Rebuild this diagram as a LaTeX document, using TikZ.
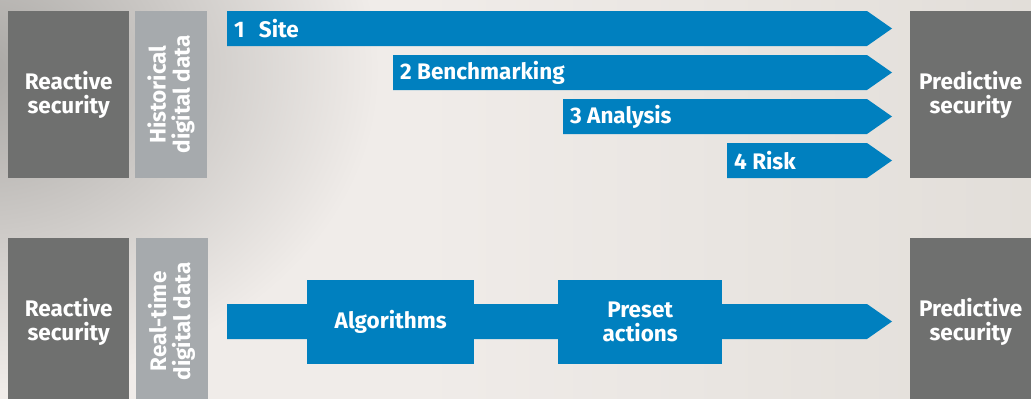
\documentclass[tikz,border=0pt]{standalone}
\usepackage{fontspec}
\setmainfont{Fira Sans}
\definecolor{colorBlock}{HTML}{6F706F}
\definecolor{colorData}{HTML}{A6AAAD}
\definecolor{colorStep}{HTML}{0080BF}
\definecolor{colorBack}{HTML}{F0ECE9}
\definecolor{colorBackII}{HTML}{E2DED9}
\definecolor{colorShadow}{HTML}{A9A7A4}
\newcommand\stepHeight{35}
\newcommand\stepTip{25}
\newcommand\stepEnd{867}
\newcommand\drawStep[4]{
	\fill[colorStep] (#2,#3) to (\stepEnd,#3) to ++(\stepTip,\stepHeight/2)
		to (\stepEnd,#3+\stepHeight) to (#2,#3+\stepHeight) to cycle;
	\node[steplabel] (#1) at (#2,#3+\stepHeight/2) {#4};
}

\begin{document}
\begin{tikzpicture}[x=1pt, y=-1pt,
		block/.style={fill=colorBlock, text=white, font=\labelfont, align=center,
			inner sep=0, minimum width=121, minimum height=167, anchor=north west},
		datablock/.style={fill=colorData, text=white, font=\labelfont, align=center,
			inner sep=0, rotate=90, minimum width=167, minimum height=72},
		steplabel/.style={anchor=west, text=white, font=\labelfont, inner sep=0, xshift=7},
		stepbox/.style={fill=colorStep, text=white, font=\labelfont, align=center,
			inner sep=0, minimum height=84, anchor=north west}]
		\newcommand\labelfont{\fontsize{22.5}{24}\selectfont\bfseries}
		\clip (0,0) rectangle (1031,399);
		\fill[colorBack] (0,0) rectangle (1031,399);
		\shade[left color=colorBack, right color=colorBackII] (420,0) rectangle (1031,399);
		\shade[inner color=colorShadow, outer color=colorBack] (-20,70) ellipse [x radius=400, y radius=320];

		\node[block] (reactTop) at (8,11) {Reactive\\security};
		\node[datablock] (histData) at (171,94.5) {Historical\\digital data};
		\node[block] (predTop) at (910,11) {Predictive\\security};

		\drawStep{site}{227}{11}{1\hspace{9pt} Site}
		\drawStep{bench}{393}{55}{2 Benchmarking}
		\drawStep{analysis}{563}{99}{3 Analysis}
		\drawStep{risk}{727}{143}{4 Risk}

		\node[block] (reactBot) at (8,238) {Reactive\\security};
		\node[datablock, minimum width=167] (realData) at (171.5,321.5) {Real-time\\digital data};
		\node[block] (predBot) at (910,238) {Predictive\\security};

		\drawStep{flow}{227}{304}{}
		\node[stepbox, minimum width=167] (algo) at (307,280) {Algorithms};
		\node[stepbox, minimum width=164] (preset) at (558,280) {Preset\\actions};
	\end{tikzpicture}
\end{document}
